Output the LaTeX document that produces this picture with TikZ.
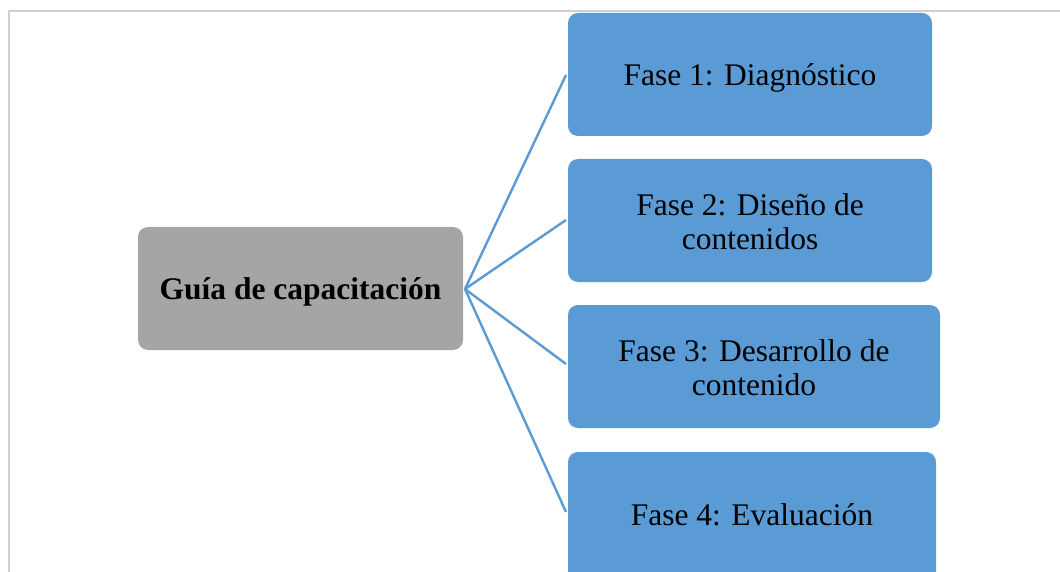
\documentclass[tikz,border=0pt]{standalone}
\usepackage{fontspec}
\setmainfont{Liberation Serif}
\definecolor{boxblue}{HTML}{5B9BD5}
\definecolor{boxgray}{HTML}{A5A5A5}
\definecolor{framegray}{HTML}{D0D0D0}
\begin{document}
\begin{tikzpicture}[x=1pt,y=-1pt,
  phase/.style={fill=boxblue, rounded corners=10pt},
  hub/.style={fill=boxgray, rounded corners=10pt},
  txt/.style={align=center, font=\fontsize{31.5}{34}\selectfont, text=black},
  link/.style={draw=boxblue, line width=2.4pt}]
\useasboundingbox (0,0) rectangle (1060,572);
\draw[framegray, line width=1.5pt] (9,572) -- (9,11) -- (1060,11);
% boxes
\path[hub] (138,227) rectangle (463,350);
\node[txt, font=\fontsize{31.5}{34}\selectfont\bfseries] (hub) at (300.5,292) {Guía de capacitación};
\coordinate (h) at (465,289);
\path[phase] (568,13) rectangle (932,136);
\node[txt] (p1) at (750,78) {Fase 1: Diagnóstico};
\path[phase] (568,159) rectangle (932,282);
\node[txt] (p2) at (750,222) {Fase 2: Diseño de\\contenidos};
\path[phase] (568,305) rectangle (940,428);
\node[txt] (p3) at (754,368) {Fase 3: Desarrollo de\\contenido};
\path[phase] (568,452) rectangle (936,590);
\node[txt] (p4) at (752,515) {Fase 4: Evaluación};
\coordinate (e1) at (566,75);
\coordinate (e2) at (566,220);
\coordinate (e3) at (566,364);
\coordinate (e4) at (566,512);
\draw[link] (h) -- (e1);
\draw[link] (h) -- (e2);
\draw[link] (h) -- (e3);
\draw[link] (h) -- (e4);
\end{tikzpicture}
\end{document}
